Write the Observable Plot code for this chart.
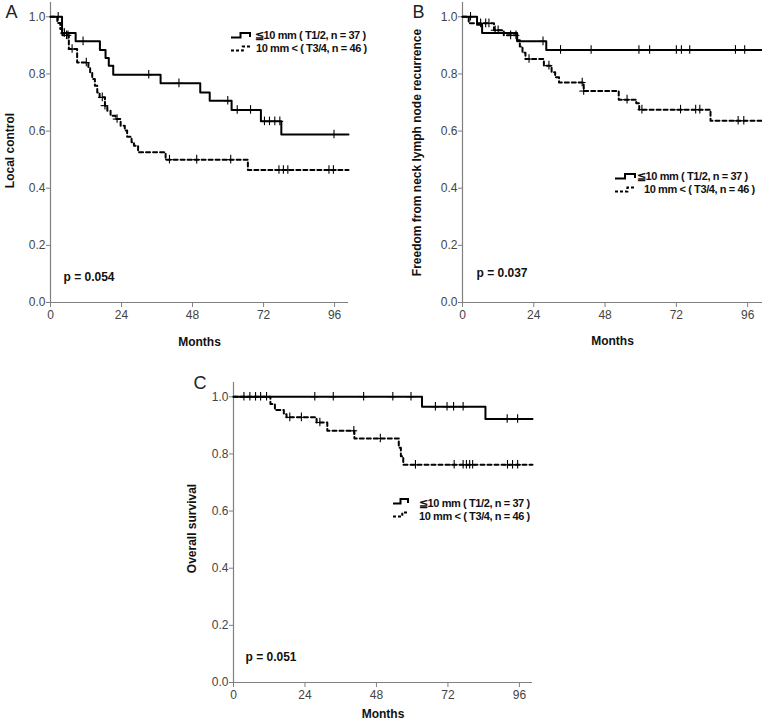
<!DOCTYPE html>
<html><head><meta charset="utf-8">
<script src="https://cdn.jsdelivr.net/npm/d3@7"></script>
<script src="https://cdn.jsdelivr.net/npm/@observablehq/plot@0.6"></script>
<style>
body{margin:0;background:#fff;}
#wrap{position:relative;width:762px;height:721px;overflow:hidden;background:#fff;}
.leg{position:absolute;font:bold 11px "Liberation Sans",Arial,sans-serif;letter-spacing:-0.4px;line-height:12px;white-space:nowrap;color:#111;}
.sym{position:absolute;overflow:visible;}
</style></head><body><div id="wrap"></div>
<script>
// ---------- data ----------
const xTicks = [0, 24, 48, 72, 96];
const yTicks = [0, 0.2, 0.4, 0.6, 0.8, 1.0];
const xLabel = "Months";
const legendLabels = ["≦10 mm ( T1/2, n = 37 )", "10 mm < ( T3/4, n = 46 )"];

// Panel A: Local control
const aSolidTime = [0, 3.9, 8.5, 16.7, 18.6, 19.7, 21.2, 37.2, 50.6, 53.8, 61.2, 71.1, 78.0];
const aSolidSurv = [1, 0.943, 0.914, 0.884, 0.856, 0.829, 0.797, 0.767, 0.735, 0.706, 0.674, 0.634, 0.588];
const aSolidCens = [2.6, 4.7, 11.0, 33.2, 43.4, 59.9, 63.1, 67.6, 72.3, 74.0, 75.8, 77.5, 95.8];
const aDashTime = [0, 2.3, 3.3, 4.0, 6.2, 9.0, 12.8, 13.4, 14.1, 15.0, 15.8, 16.6, 18.4, 19.2, 20.3, 22.0, 23.7, 25.1, 25.9, 27.4, 28.2, 29.6, 38.9, 66.7];
const aDashSurv = [1, 0.978, 0.957, 0.935, 0.887, 0.840, 0.823, 0.805, 0.782, 0.759, 0.735, 0.718, 0.689, 0.671, 0.654, 0.642, 0.619, 0.602, 0.580, 0.561, 0.549, 0.526, 0.500, 0.464];
const aDashCens = [5.4, 5.9, 7.3, 12.1, 17.5, 18.4, 22.5, 40.2, 49.4, 60.9, 77.2, 78.7, 80.2, 94.1, 95.6];

// Panel B: Freedom from neck lymph node recurrence
const bSolidTime = [0, 4.9, 6.6, 18.4, 28.2];
const bSolidSurv = [1, 0.972, 0.943, 0.914, 0.884];
const bSolidCens = [2.7, 27.1, 33.0, 43.3, 59.4, 63.0, 72.0, 73.7, 76.5, 91.9, 95.0];
const bDashTime = [0, 2.1, 10.6, 13.9, 18.4, 19.3, 20.2, 21.2, 27.4, 30.0, 31.2, 32.5, 40.8, 52.6, 58.5, 59.5, 83.5];
const bDashSurv = [1, 0.977, 0.953, 0.935, 0.918, 0.896, 0.874, 0.852, 0.829, 0.806, 0.788, 0.770, 0.740, 0.710, 0.697, 0.675, 0.636];
const bDashCens = [6.1, 7.8, 8.9, 11.0, 12.0, 16.2, 18.0, 22.4, 29.1, 40.3, 40.8, 55.4, 60.4, 73.4, 78.5, 79.9, 92.8, 94.7];

// Panel C: Overall survival
const cSolidTime = [0, 63.3, 84.6];
const cSolidSurv = [1, 0.965, 0.922];
const cSolidCens = [3.5, 5.5, 7.4, 9.1, 11.1, 27.3, 33.5, 43.7, 53.5, 59.6, 67.8, 71.7, 73.9, 77.1, 91.9, 95.4];
const cDashTime = [0, 12.4, 13.9, 16.9, 17.8, 27.9, 31.5, 40.6, 55.5, 56.2, 57.0];
const cDashSurv = [1, 0.975, 0.954, 0.939, 0.928, 0.910, 0.881, 0.854, 0.822, 0.792, 0.762];
const cDashCens = [18.9, 22.8, 29.0, 40.4, 49.3, 61.1, 74.1, 77.1, 78.2, 79.3, 80.3, 92.0, 93.7, 95.4];

const pValues = ["p = 0.054", "p = 0.037", "p = 0.051"];
const yLabels = ["Local control", "Freedom from neck lymph node recurrence", "Overall survival"];
const letters = ["A", "B", "C"];
const endMonth = [100.7, 101, 100.4];

// ---------- helpers ----------
function stepAt(times, surv, t) { let s = surv[0]; for (let i = 0; i < times.length; i++) if (times[i] <= t) s = surv[i]; return s; }
function curve(times, surv, end) { const d = times.map((t, i) => ({t, s: surv[i]})); d.push({t: end, s: surv[surv.length - 1]}); return d; }
function cens(times, surv, cs) { return cs.map(t => ({t, s: stepAt(times, surv, t)})); }

const FONT = '"Liberation Sans", Arial, sans-serif';

function panel(i, L) {
  const solid = curve(L.sT, L.sS, endMonth[i]);
  const dash = curve(L.dT, L.dS, endMonth[i]);
  const marks = cens(L.sT, L.sS, L.sC).concat(cens(L.dT, L.dS, L.dC));
  const plot = Plot.plot({
    width: L.w, height: L.h,
    marginLeft: L.ml, marginRight: L.mr, marginTop: L.mt, marginBottom: L.mb,
    x: {domain: [0, endMonth[i]]},
    y: {domain: [0, 1.05]},
    style: {fontFamily: FONT, fontSize: "12px", background: "transparent", overflow: "visible", maxWidth: "none", color: "#333"},
    marks: [
      Plot.axisX({ticks: xTicks, tickSize: 5, tickPadding: 3, stroke: "#808080", fill: "#444", label: null, fontSize: 12}),
      Plot.axisY({ticks: yTicks, tickSize: 4, tickPadding: 1, tickFormat: d3.format(".1f"), stroke: "#808080", fill: "#444", label: null, fontSize: 12}),
      Plot.ruleX([0], {stroke: "#808080", strokeWidth: 1.2}),
      Plot.ruleY([0], {stroke: "#808080", strokeWidth: 1.2}),
      Plot.line(solid, {x: "t", y: "s", curve: "step-after", stroke: "#000", strokeWidth: 2}),
      Plot.line(dash, {x: "t", y: "s", curve: "step-after", stroke: "#000", strokeWidth: 2, strokeDasharray: "4,3"}),
      Plot.ruleX(marks, {x: "t", y1: d => d.s - 0.015, y2: d => d.s + 0.015, stroke: "#000", strokeWidth: 1.1}),
      Plot.ruleY(marks, {y: "s", x1: d => d.t - 1.3, x2: d => d.t + 1.3, stroke: "#000", strokeWidth: 1.1}),
      Plot.text([pValues[i]], {frameAnchor: "bottom-left", textAnchor: "start", lineAnchor: "middle", dx: L.pdx, dy: L.pdy, fontWeight: "bold", fontSize: 12, fill: "#111"}),
      Plot.text([xLabel], {frameAnchor: "bottom", textAnchor: "middle", lineAnchor: "middle", dy: L.mdy, fontWeight: "bold", fontSize: 12, fill: "#111"}),
      Plot.text([yLabels[i]], {frameAnchor: "left", textAnchor: "middle", lineAnchor: "middle", rotate: -90, dx: L.ydx, dy: L.ydy, fontWeight: "bold", fontSize: 12, fill: "#111"}),
      Plot.text([letters[i]], {frameAnchor: "top-left", textAnchor: "start", lineAnchor: "top", dx: L.ldx, dy: L.ldy, fontSize: 18, fill: "#222"})
    ]
  });
  plot.style.position = "absolute";
  plot.style.left = L.left + "px";
  plot.style.top = L.top + "px";
  return plot;
}

const wrap = document.getElementById("wrap");
const layouts = [
  {left: 0, top: 0, w: 362, h: 360, ml: 50, mr: 14, mt: 2, mb: 58,
   sT: aSolidTime, sS: aSolidSurv, sC: aSolidCens, dT: aDashTime, dS: aDashSurv, dC: aDashCens,
   pdx: 13, pdy: -25, mdy: 40, ydx: -40, ydy: -2, ldx: -45, ldy: 3},
  {left: 380, top: 0, w: 382, h: 360, ml: 82, mr: 0, mt: 2, mb: 58,
   sT: bSolidTime, sS: bSolidSurv, sC: bSolidCens, dT: bDashTime, dS: bDashSurv, dC: bDashCens,
   pdx: 14, pdy: -29, mdy: 39, ydx: -45, ydy: 0, ldx: -50, ldy: 3},
  {left: 150, top: 370, w: 400, h: 351, ml: 83, mr: 18, mt: 12, mb: 39,
   sT: cSolidTime, sS: cSolidSurv, sC: cSolidCens, dT: cDashTime, dS: cDashSurv, dC: cDashCens,
   pdx: 12, pdy: -25, mdy: 32, ydx: -41, ydy: -4, ldx: -40, ldy: -6}
];
layouts.forEach((L, i) => wrap.appendChild(panel(i, L)));

// legends (page positions)
const legendPos = [
  {s: [[231, 32], [231, 45]], t: [[255, 29], [256, 42]], w: 19},
  {s: [[615, 173], [615, 186]], t: [[637, 170], [644, 183]], w: 20},
  {s: [[393, 498], [393, 511]], t: [[419, 497], [419, 510]], w: 15}
];
const NS = "http://www.w3.org/2000/svg";
legendPos.forEach(P => {
  [0, 1].forEach(k => {
    const svg = document.createElementNS(NS, "svg");
    svg.setAttribute("class", "sym");
    svg.setAttribute("width", P.w); svg.setAttribute("height", 7);
    svg.style.left = P.s[k][0] + "px"; svg.style.top = P.s[k][1] + "px";
    const path = document.createElementNS(NS, "path");
    const w = P.w;
    path.setAttribute("d", k === 0
      ? `M0,5.5 H${w * 0.5} V1 H${w} V5`
      : `M0,5.5 H${w * 0.62} V1.5 H${w}`);
    path.setAttribute("fill", "none");
    path.setAttribute("stroke", "#000");
    path.setAttribute("stroke-width", 2);
    if (k === 1) path.setAttribute("stroke-dasharray", "3,2");
    svg.appendChild(path);
    wrap.appendChild(svg);
    const div = document.createElement("div");
    div.className = "leg";
    div.textContent = legendLabels[k];
    div.style.left = P.t[k][0] + "px"; div.style.top = P.t[k][1] + "px";
    wrap.appendChild(div);
  });
});
</script>
</body></html>
